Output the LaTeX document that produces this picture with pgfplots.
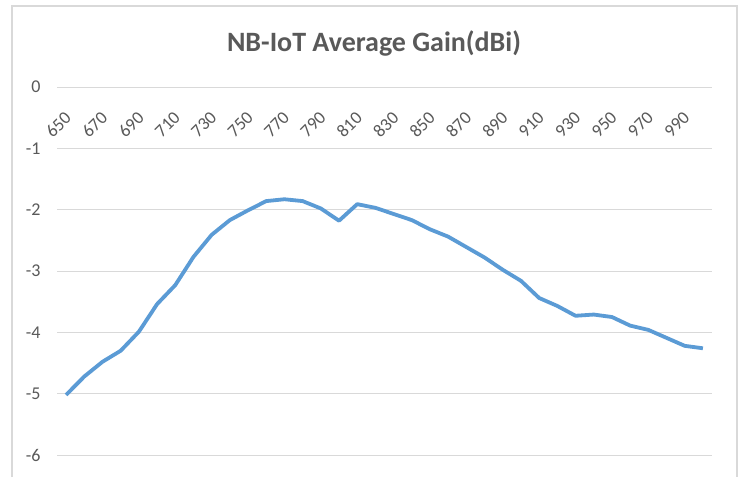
\documentclass[border=0pt]{standalone}
\usepackage{pgfplots}
\pgfplotsset{compat=1.18}
\usepackage{fontspec}
\setmainfont{Carlito}
\definecolor{lineblue}{HTML}{5B9BD5}
\definecolor{gridgray}{HTML}{D9D9D9}
\definecolor{textgray}{HTML}{595959}
\begin{document}
\begin{tikzpicture}
\useasboundingbox[fill=white] (0,0) rectangle (372pt,-238.5pt);
\draw[gridgray, line width=0.8pt] (6pt,-238.5pt) -- (6pt,-3pt) -- (368.5pt,-3pt) -- (368.5pt,-238.5pt);
\node[textgray, anchor=base, inner sep=0pt, font=\bfseries\fontsize{14}{16}\selectfont] at (187pt,-25.8pt) {NB-IoT Average Gain(dBi)};
\begin{axis}[
  at={(28.5pt,-227.5pt)}, anchor=south west,
  scale only axis, width=327.5pt, height=184pt,
  xmin=645, xmax=1005, ymin=-6, ymax=0,
  axis line style={draw=none},
  major tick length=0pt,
  ymajorgrids, grid style={gridgray, line width=0.5pt},
  ytick={-6,-5,...,0},
  xtick={650,670,...,990},
  xticklabel pos=upper,
  /pgf/number format/assume math mode=true,
  /pgf/number format/1000 sep={},
  ticklabel style={textgray, font=\fontsize{9}{11}\selectfont},
  xticklabel style={rotate=45, anchor=east, inner sep=0pt, yshift=-10.5pt, xshift=-9pt},
  yticklabel style={anchor=east, inner sep=0pt, xshift=-8pt},
  clip=false,
]
\addplot[lineblue, line width=1.9pt, line join=round] coordinates {
(650,-5.02) (660,-4.72) (670,-4.48) (680,-4.30) (690,-3.99) (700,-3.54)
(710,-3.23) (720,-2.77) (730,-2.41) (740,-2.17) (750,-2.01) (760,-1.86)
(770,-1.83) (780,-1.86) (790,-1.98) (800,-2.18) (810,-1.91) (820,-1.97)
(830,-2.07) (840,-2.17) (850,-2.32) (860,-2.44) (870,-2.61) (880,-2.78)
(890,-2.98) (900,-3.16) (910,-3.44) (920,-3.57) (930,-3.73) (940,-3.71)
(950,-3.75) (960,-3.89) (970,-3.96) (980,-4.09) (990,-4.22) (1000,-4.26)
};
\end{axis}
\end{tikzpicture}
\end{document}
